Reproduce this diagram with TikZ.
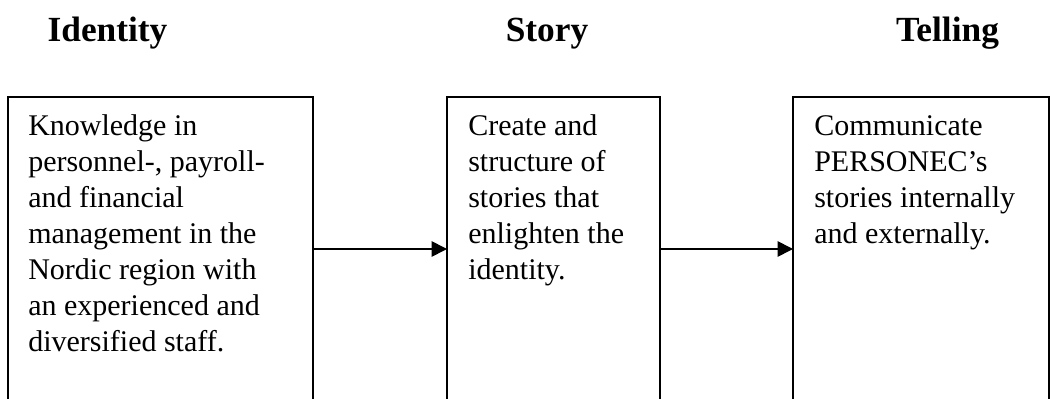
\documentclass[tikz,border=0pt]{standalone}
\usepackage{fontspec}
\setmainfont{Liberation Serif}
\usetikzlibrary{arrows.meta}
\tikzset{
  box/.style={draw=black, line width=1.3pt, inner sep=0pt, outer sep=0pt, anchor=north west, minimum height=228pt},
  body/.style={inner sep=0pt, anchor=north west, align=left, font=\fontsize{22.5pt}{27pt}\selectfont},
  head/.style={inner sep=0pt, anchor=base, font=\fontsize{26.5pt}{30pt}\selectfont\bfseries},
  arr/.style={line width=1.3pt, -{Triangle[length=11.5pt, width=11.5pt]}}
}
\begin{document}
\begin{tikzpicture}[x=0.75pt, y=-0.75pt]
\useasboundingbox (0,0) rectangle (1050,399);
\clip (0,0) rectangle (1050,399);
% headings
\node[head] (h1) at (107.5,42) {Identity};
\node[head] (h2) at (547,42) {Story};
\node[head] (h3) at (947.5,42) {Telling};
% boxes
\node[box, minimum width=228.75pt] (b1) at (8,97) {};
\node[box, minimum width=159.75pt] (b2) at (447,97) {};
\node[box, minimum width=192pt] (b3) at (793,97) {};
% texts
\node[body] (t1) at (28,109.8) {\strut Knowledge in\\ personnel-, payroll-\\ and financial\\ management in the\\ Nordic region with\\ an experienced and\\ diversified staff.};
\node[body] (t2) at (468,109.8) {\strut Create and\\ structure of\\ stories that\\ enlighten the\\ identity.};
\node[body] (t3) at (814,109.8) {\strut Communicate\\ PERSONEC’s\\ stories internally\\ and externally.};
% connectors
\draw[arr] (b1.east) -- (b2.west);
\draw[arr] (b2.east) -- (b3.west);
\end{tikzpicture}
\end{document}
